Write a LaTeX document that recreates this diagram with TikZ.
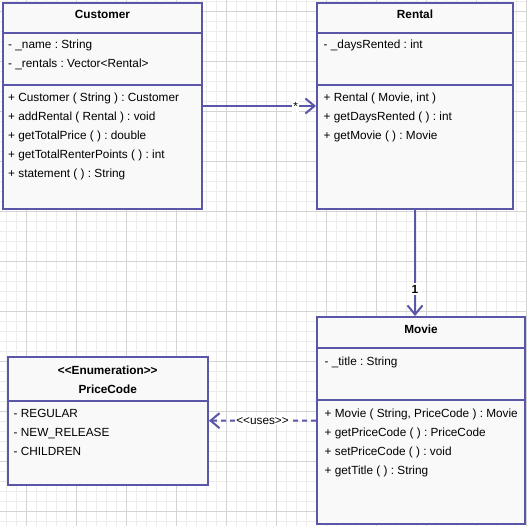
\documentclass[tikz,border=0pt]{standalone}
\usepackage{fontspec}
\setmainfont{Liberation Sans}
\usetikzlibrary{arrows.meta}
\definecolor{umlborder}{RGB}{90,86,168}
\definecolor{boxfill}{RGB}{249,249,249}
\definecolor{gridminor}{RGB}{236,236,236}
\definecolor{gridmajor}{RGB}{212,212,212}
\newcommand{\umlfont}{\fontsize{11.8}{14}\selectfont\frenchspacing}
\newcommand{\lt}{<\kern0pt}
\newcommand{\gt}{>\kern0pt}
\tikzset{
  classbox/.style={draw=umlborder, line width=2pt, fill=boxfill, inner sep=0pt, outer sep=1pt},
  divider/.style={draw=umlborder, line width=2pt},
  member/.style={anchor=west, inner sep=0pt, font=\umlfont, text height=9pt, text depth=1pt},
  classname/.style={inner sep=0pt, font=\umlfont\bfseries, text height=9pt, text depth=1pt},
  assoc/.style={draw=umlborder, line width=2pt, -{Straight Barb[length=9pt,width=15pt]}},
  usesline/.style={assoc, dash pattern=on 5pt off 4pt},
  multlabel/.style={fill=white, inner sep=2pt, font=\umlfont, text=black},
}
\begin{document}
\begin{tikzpicture}[x=1pt,y=-1pt]
\useasboundingbox (0,0) rectangle (527,526);
\fill[white] (0,0) rectangle (527,526);
% grid
\begin{scope}
\clip (0,0) rectangle (527,526);
\foreach \i in {0,...,52} {
  \draw[gridminor, line width=1pt] ({6.7+10*\i},0) -- ({6.7+10*\i},526);
  \draw[gridminor, line width=1pt] (0,{1.7+10*\i}) -- (527,{1.7+10*\i});
}
\foreach \i in {0,...,10} {
  \draw[gridmajor, line width=1pt] ({26.7+50*\i},0) -- ({26.7+50*\i},526);
  \draw[gridmajor, line width=1pt] (0,{11.7+50*\i}) -- (527,{11.7+50*\i});
}
\end{scope}

% Customer
\node[classbox, minimum width=199pt, minimum height=206pt] (customer) at (102.5,106) {};
\draw[divider] (3,33) -- (202,33);
\draw[divider] (3,85) -- (202,85);
\node[classname] (customerT) at (102.5,15) {Customer};
\node[member] (c1) at (8,45) {- \_name : String};
\node[member] (c2) at (8,64) {- \_rentals : Vector\lt Rental\gt};
\node[member] (c3) at (8,98) {+ Customer ( String ) : Customer};
\node[member] (c4) at (8,117) {+ addRental ( Rental ) : void};
\node[member] (c5) at (8,136) {+ getTotalPrice ( ) : double};
\node[member] (c6) at (8,155) {+ getTotalRenterPoints ( ) : int};
\node[member] (c7) at (8,174) {+ statement ( ) : String};

% Rental
\node[classbox, minimum width=196pt, minimum height=206pt] (rental) at (415,106) {};
\draw[divider] (317,33) -- (513,33);
\draw[divider] (317,85) -- (513,85);
\node[classname] (rentalT) at (415,15) {Rental};
\node[member] (r1) at (323.5,45) {- \_daysRented : int};
\node[member] (r2) at (323.5,98) {+ Rental ( Movie, int )};
\node[member] (r3) at (323.5,117) {+ getDaysRented ( ) : int};
\node[member] (r4) at (323.5,136) {+ getMovie ( ) : Movie};

% Movie
\node[classbox, minimum width=208pt, minimum height=207pt] (movie) at (421,420.5) {};
\draw[divider] (317,348) -- (525,348);
\draw[divider] (317,400) -- (525,400);
\node[classname] (movieT) at (421,330) {Movie};
\node[member] (m1) at (324.5,361) {- \_title : String};
\node[member] (m2) at (324.5,413) {+ Movie ( String, PriceCode ) : Movie};
\node[member] (m3) at (324.5,432) {+ getPriceCode ( ) : PriceCode};
\node[member] (m4) at (324.5,451) {+ setPriceCode ( ) : void};
\node[member] (m5) at (324.5,470) {+ getTitle ( ) : String};

% PriceCode
\node[classbox, minimum width=200.5pt, minimum height=127.5pt] (pricecode) at (107.75,420.75) {};
\draw[divider] (7.5,401) -- (208,401);
\node[classname] (pcS) at (107.75,370.5) {\lt\lt Enumeration\gt\gt};
\node[classname] (pcT) at (107.75,389.5) {PriceCode};
\node[member] (p1) at (13.5,413.5) {- REGULAR};
\node[member] (p2) at (13.5,432.5) {- NEW\_RELEASE};
\node[member] (p3) at (13.5,451.5) {- CHILDREN};

% connectors
\draw[assoc] (customer) -- (rental) node[multlabel, pos=0.82, inner sep=1.5pt] (star) {*};
\draw[assoc] (rental.south) -- (rental.south |- movie.north) node[multlabel, pos=0.745, font=\umlfont\bfseries] (one) {1};
\draw[usesline] (movie) -- (pricecode) node[multlabel, pos=0.5, inner sep=1pt] (usesT) {\lt\lt uses\gt\gt};
\end{tikzpicture}
\end{document}
